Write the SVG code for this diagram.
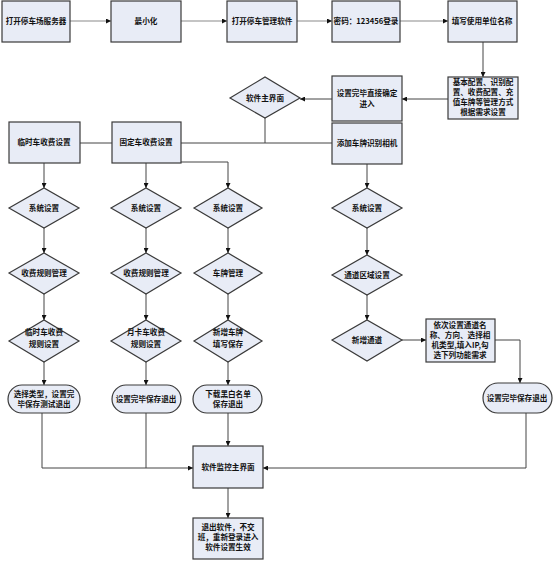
<svg xmlns="http://www.w3.org/2000/svg" width="555" height="564" viewBox="0 0 555 564">
<style>
.b{fill:#e8ecf6;stroke:#3a3a3a;stroke-width:1.2}
.t{font-family:"Noto Sans CJK SC","Liberation Serif",serif;font-size:7.6px;font-weight:bold;fill:#111;text-anchor:middle}
.c{fill:none;stroke:#444;stroke-width:1}
.g{fill:none;stroke:#8a8a8a;stroke-width:1.2}
</style>
<defs>
<marker id="a" viewBox="0 0 6 6" refX="6" refY="3" markerWidth="5" markerHeight="5" orient="auto" markerUnits="userSpaceOnUse">
<path d="M0,0L6,3L0,6z" fill="#111"/>
</marker>
</defs>
<rect width="555" height="564" fill="#fff"/>
<g id="connectors">
<path class="g" d="M70,21H111" marker-end="url(#a)"/>
<path class="g" d="M181,21H227" marker-end="url(#a)"/>
<path class="g" d="M297,21H332" marker-end="url(#a)"/>
<path class="g" d="M400,21H448" marker-end="url(#a)"/>
<path class="c" d="M483,42V77" marker-end="url(#a)"/>
<path class="c" d="M448,99H402" marker-end="url(#a)"/>
<path class="c" d="M332,99H300" marker-end="url(#a)"/>
<path class="c" d="M265,118V143"/>
<path class="c" d="M80,143H112"/>
<path class="c" d="M181,143H332"/>
<path class="c" d="M44,163V188" marker-end="url(#a)"/>
<path class="c" d="M146,163V188" marker-end="url(#a)"/>
<path class="c" d="M181,162H228V188" marker-end="url(#a)"/>
<path class="c" d="M367,164V188" marker-end="url(#a)"/>
<path class="c" d="M44,228V253" marker-end="url(#a)"/>
<path class="c" d="M146,228V253" marker-end="url(#a)"/>
<path class="c" d="M228,228V253" marker-end="url(#a)"/>
<path class="c" d="M367,228V255" marker-end="url(#a)"/>
<path class="c" d="M44,294V320" marker-end="url(#a)"/>
<path class="c" d="M146,294V320" marker-end="url(#a)"/>
<path class="c" d="M228,294V320" marker-end="url(#a)"/>
<path class="c" d="M367,295V320" marker-end="url(#a)"/>
<path class="c" d="M44,362V385" marker-end="url(#a)"/>
<path class="c" d="M146,362V385" marker-end="url(#a)"/>
<path class="c" d="M228,362V385" marker-end="url(#a)"/>
<path class="c" d="M402,340H426" marker-end="url(#a)"/>
<path class="c" d="M495,340H520V383" marker-end="url(#a)"/>
<path class="c" d="M42,413V468H193" marker-end="url(#a)"/>
<path class="c" d="M146,413V468"/>
<path class="c" d="M228,413V446" marker-end="url(#a)"/>
<path class="c" d="M526,413V468H263" marker-end="url(#a)"/>
<path class="c" d="M228,488V518" marker-end="url(#a)"/>
</g>
<g id="n1"><rect class="b" x="2" y="1" width="68" height="41"/><text class="t" x="36" y="24">打开停车场服务器</text></g>
<g id="n2"><rect class="b" x="111" y="1" width="70" height="41"/><text class="t" x="146" y="24">最小化</text></g>
<g id="n3"><rect class="b" x="227" y="1" width="70" height="41"/><text class="t" x="262" y="24">打开停车管理软件</text></g>
<g id="n4"><rect class="b" x="332" y="1" width="68" height="41"/><text class="t" x="366" y="24">密码：123456登录</text></g>
<g id="n5"><rect class="b" x="448" y="1" width="69" height="41"/><text class="t" x="482" y="24">填写使用单位名称</text></g>
<g id="n6"><rect class="b" x="448" y="77" width="70" height="42"/>
<text class="t" x="483" y="85">基本配置、识别配</text>
<text class="t" x="483" y="95">置、收费配置、充</text>
<text class="t" x="483" y="105">值车牌等管理方式</text>
<text class="t" x="483" y="115">根据需求设置</text></g>
<g id="n7"><rect class="b" x="332" y="76" width="70" height="45"/>
<text class="t" x="367" y="96">设置完毕直接确定</text>
<text class="t" x="367" y="107">进入</text></g>
<g id="n8"><path class="b" d="M230,98L265,77L300,98L265,118z"/><text class="t" x="265" y="101">软件主界面</text></g>
<g id="n9"><rect class="b" x="9" y="122" width="71" height="41"/><text class="t" x="44" y="145">临时车收费设置</text></g>
<g id="n10"><rect class="b" x="112" y="122" width="69" height="41"/><text class="t" x="146" y="145">固定车收费设置</text></g>
<g id="n11"><rect class="b" x="332" y="123" width="70" height="41"/><text class="t" x="367" y="146">添加车牌识别相机</text></g>
<g id="n12"><path class="b" d="M9,208L44,188L79,208L44,228z"/><text class="t" x="44" y="211">系统设置</text></g>
<g id="n13"><path class="b" d="M111,208L146,188L181,208L146,228z"/><text class="t" x="146" y="211">系统设置</text></g>
<g id="n14"><path class="b" d="M194,208L228,188L262,208L228,228z"/><text class="t" x="228" y="211">系统设置</text></g>
<g id="n15"><path class="b" d="M332,208L367,188L402,208L367,228z"/><text class="t" x="367" y="211">系统设置</text></g>
<g id="n16"><path class="b" d="M9,273L44,253L79,273L44,294z"/><text class="t" x="44" y="276">收费规则管理</text></g>
<g id="n17"><path class="b" d="M111,273L146,253L181,273L146,294z"/><text class="t" x="146" y="276">收费规则管理</text></g>
<g id="n18"><path class="b" d="M194,273L228,253L262,273L228,294z"/><text class="t" x="228" y="276">车牌管理</text></g>
<g id="n19"><path class="b" d="M332,275L367,255L402,275L367,295z"/><text class="t" x="367" y="278">通道区域设置</text></g>
<g id="n20"><path class="b" d="M9,341L44,320L79,341L44,362z"/><text class="t" x="44" y="335">临时车收费</text><text class="t" x="44" y="347">规则设置</text></g>
<g id="n21"><path class="b" d="M111,341L146,320L181,341L146,362z"/><text class="t" x="146" y="335">月卡车收费</text><text class="t" x="146" y="347">规则设置</text></g>
<g id="n22"><path class="b" d="M194,341L228,320L262,341L228,362z"/><text class="t" x="228" y="335">新增车牌</text><text class="t" x="228" y="347">填写保存</text></g>
<g id="n23"><path class="b" d="M332,340L367,320L402,340L367,361z"/><text class="t" x="367" y="343">新增通道</text></g>
<g id="n24"><rect class="b" x="426" y="319" width="69" height="43"/>
<text class="t" x="460" y="328">依次设置通道名</text>
<text class="t" x="460" y="338">称、方向、选择相</text>
<text class="t" x="460" y="348">机类型,填入IP,勾</text>
<text class="t" x="460" y="358">选下列功能需求</text></g>
<g id="n25"><rect class="b" x="8" y="385" width="72" height="28" rx="14"/><text class="t" x="44" y="397">选择类型，设置完</text><text class="t" x="44" y="407">毕保存测试退出</text></g>
<g id="n26"><rect class="b" x="112" y="385" width="69" height="28" rx="14"/><text class="t" x="146" y="402">设置完毕保存退出</text></g>
<g id="n27"><rect class="b" x="193" y="385" width="69" height="28" rx="14"/><text class="t" x="228" y="397">下载黑白名单</text><text class="t" x="228" y="407">保存退出</text></g>
<g id="n28"><rect class="b" x="483" y="383" width="69" height="30" rx="15"/><text class="t" x="517" y="401">设置完毕保存退出</text></g>
<g id="n29"><rect class="b" x="193" y="446" width="70" height="42"/><text class="t" x="228" y="470">软件监控主界面</text></g>
<g id="n30"><rect class="b" x="193" y="518" width="70" height="41"/>
<text class="t" x="228" y="530">退出软件，不交</text>
<text class="t" x="228" y="540">班，重新登录进入</text>
<text class="t" x="228" y="550">软件设置生效</text></g>
</svg>
